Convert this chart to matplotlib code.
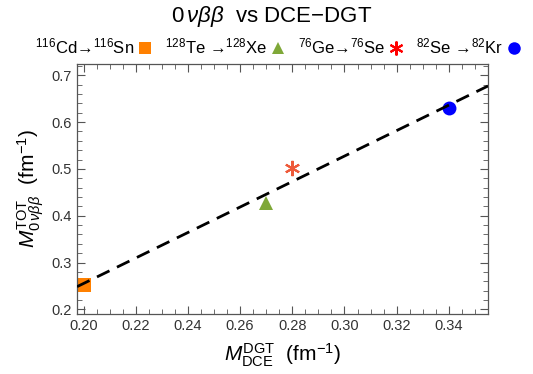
import numpy as np
import matplotlib
matplotlib.use('Agg')
import matplotlib.pyplot as plt
from matplotlib.lines import Line2D
from matplotlib.ticker import MultipleLocator

plt.rcParams['font.family'] = ['Liberation Sans', 'DejaVu Sans']
plt.rcParams['mathtext.fontset'] = 'custom'
plt.rcParams['mathtext.rm'] = 'Liberation Sans'
plt.rcParams['mathtext.it'] = 'Liberation Sans:italic'
plt.rcParams['mathtext.bf'] = 'Liberation Sans:bold'

# данные: матричные элементы DCE-DGT и 0vbb
labels = ['$^{116}$Cd→$^{116}$Sn', '$^{128}$Te →$^{128}$Xe',
          '$^{76}$Ge→$^{76}$Se', '$^{82}$Se →$^{82}$Kr']
m_dce = [0.200, 0.270, 0.280, 0.340]
m_0vbb = [0.252, 0.428, 0.501, 0.629]
colors = ['#FF8000', '#7FA838', '#EE5A3A', '#0000FF']
legend_colors = ['#FF8000', '#7FA838', '#FF0000', '#0000FF']
markers = ['s', '^', (6, 2, 0), 'o']
sizes = [10, 10, 11, 10]

fig = plt.figure(figsize=(5.33, 3.74), dpi=100)
ax = fig.add_axes([0.1445, 0.1604, 0.7711, 0.6685])

xmin, xmax = 0.1975, 0.355
ymin, ymax = 0.19, 0.724

# линейная аппроксимация
k, b = np.polyfit(m_dce, m_0vbb, 1)
xs = np.array([xmin, xmax])
ax.plot(xs, k * xs + b, '--', color='black', lw=2, dashes=(5, 3), zorder=3)

for x, y, c, m, s in zip(m_dce, m_0vbb, colors, markers, sizes):
    ew = 1.5 if m == (6, 2, 0) else 0
    ax.plot(x, y, marker=m, color=c, markersize=s, markeredgewidth=ew,
            markeredgecolor=c, linestyle='none', zorder=2, clip_on=False)

ax.set_xlim(xmin, xmax)
ax.set_ylim(ymin, ymax)
ax.set_xticks([0.20, 0.22, 0.24, 0.26, 0.28, 0.30, 0.32, 0.34])
ax.set_xticklabels(['0.20', '0.22', '0.24', '0.26', '0.28', '0.30', '0.32', '0.34'])
ax.set_yticks([0.2, 0.3, 0.4, 0.5, 0.6, 0.7])
ax.set_yticklabels(['0.2', '0.3', '0.4', '0.5', '0.6', '0.7'])
ax.xaxis.set_minor_locator(MultipleLocator(0.005))
ax.yaxis.set_minor_locator(MultipleLocator(0.02))
ax.tick_params(which='both', direction='in', top=True, right=True,
               color='#555555', labelsize=10.5, labelcolor='#333333')
ax.tick_params(which='major', length=6, width=0.8)
ax.tick_params(which='minor', length=3.5, width=0.6)
for sp in ax.spines.values():
    sp.set_color('#555555')
    sp.set_linewidth(0.9)

ax.set_xlabel(r'$\mathit{M}^{\rm DGT}_{\rm DCE}$  (fm$^{-1}$)', fontsize=15, labelpad=6)
ax.set_ylabel(r'$\mathit{M}^{\rm TOT}_{0\,\nu\beta\beta}$  (fm$^{-1}$)', fontsize=15, labelpad=4)

fig.text(0.51, 0.955, r'$0\,\nu\beta\beta$  vs DCE$-$DGT', ha='center', va='center', fontsize=16)

handles = [Line2D([], [], marker=m, color=c, linestyle='none', markersize=s - 1,
                  markeredgewidth=(1.5 if m == (6, 2, 0) else 0), markeredgecolor=c)
           for m, c, s in zip(markers, legend_colors, sizes)]
fig.legend(handles, labels, loc='center', bbox_to_anchor=(0.52, 0.875), ncol=4,
           frameon=False, markerfirst=False, fontsize=12, handlelength=0.6,
           handletextpad=0.35, columnspacing=0.9, borderaxespad=0, borderpad=0)

plt.savefig('out.png', dpi=100)
